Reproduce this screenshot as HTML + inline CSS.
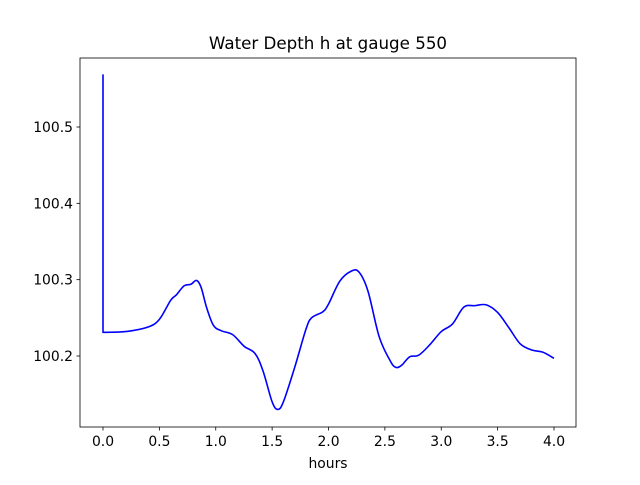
<!DOCTYPE html>
<html><head><meta charset="utf-8"><style>
body{margin:0;background:#fff;font-family:"Liberation Sans","DejaVu Sans",sans-serif}
svg text{font-family:"DejaVu Sans","Liberation Sans",sans-serif;font-size:13.9px;fill:#000}
</style></head><body>
<svg width="640" height="480" viewBox="0 0 640 480">
<rect x="0" y="0" width="640" height="480" fill="#fff"/>
<g id="ticks"></g>
<path id="line" fill="none" stroke="#0000ff" stroke-width="1.6" stroke-linejoin="round"/>
<rect x="80" y="58" width="496" height="369" fill="none" stroke="#000" stroke-width="0.8"/>
<text x="328" y="49" text-anchor="middle" style="font-size:16.7px">Water Depth h at gauge 550</text>
<text x="328" y="468" text-anchor="middle">hours</text>
</svg>
<script>
const hours=[0,0,0.2,0.4,0.5,0.6,0.65,0.72,0.78,0.83,0.87,0.92,0.98,1.05,1.15,1.25,1.35,1.42,1.5,1.55,1.6,1.7,1.8,1.85,1.95,2.0,2.1,2.2,2.27,2.35,2.45,2.55,2.6,2.65,2.72,2.8,2.9,3.0,3.1,3.2,3.3,3.4,3.5,3.6,3.7,3.8,3.9,4.0];
const depth=[100.569,100.231,100.232,100.238,100.248,100.273,100.280,100.292,100.294,100.299,100.290,100.263,100.240,100.233,100.228,100.213,100.203,100.180,100.140,100.130,100.140,100.185,100.235,100.250,100.258,100.268,100.298,100.311,100.310,100.285,100.225,100.193,100.185,100.188,100.199,100.201,100.215,100.232,100.242,100.264,100.266,100.267,100.257,100.237,100.216,100.208,100.205,100.197];
const xTicks=[0,0.5,1,1.5,2,2.5,3,3.5,4];
const xTickLabels=["0.0","0.5","1.0","1.5","2.0","2.5","3.0","3.5","4.0"];
const yTicks=[100.2,100.3,100.4,100.5];
const yTickLabels=["100.2","100.3","100.4","100.5"];
const xs=v=>103+v*112.75;
const ys=v=>356-(v-100.2)*763.3;
const NS="http://www.w3.org/2000/svg";
const g=document.getElementById('ticks');
xTicks.forEach((t,i)=>{
 const l=document.createElementNS(NS,'line');
 
 
 l.setAttribute('x1',xs(t));l.setAttribute('x2',xs(t));l.setAttribute('y1',427);l.setAttribute('y2',430.5);l.setAttribute('stroke','#000');l.setAttribute('stroke-width','0.8');
 g.appendChild(l);
 const tx=document.createElementNS(NS,'text');
 
 
 tx.setAttribute('x',xs(t));tx.setAttribute('y',446);tx.setAttribute('text-anchor','middle');tx.textContent=xTickLabels[i];
 g.appendChild(tx);
});
yTicks.forEach((t,i)=>{
 const l=document.createElementNS(NS,'line');
 
 
 l.setAttribute('x1',76.5);l.setAttribute('x2',80);l.setAttribute('y1',ys(t));l.setAttribute('y2',ys(t));l.setAttribute('stroke','#000');l.setAttribute('stroke-width','0.8');
 g.appendChild(l);
 const tx=document.createElementNS(NS,'text');
 
 
 tx.setAttribute('x',73);tx.setAttribute('y',ys(t)+5);tx.setAttribute('text-anchor','end');tx.textContent=yTickLabels[i];
 g.appendChild(tx);
});
const P=hours.map((h,i)=>[xs(h),ys(depth[i])]);
let d='M'+P[0][0]+','+P[0][1]+'L'+P[1][0]+','+P[1][1];
for(let i=1;i<P.length-1;i++){
 const p0=P[Math.max(1,i-1)],p1=P[i],p2=P[i+1],p3=P[Math.min(P.length-1,i+2)];
 const c1=[p1[0]+(p2[0]-p0[0])/6,p1[1]+(p2[1]-p0[1])/6];
 const c2=[p2[0]-(p3[0]-p1[0])/6,p2[1]-(p3[1]-p1[1])/6];
 d+='C'+c1[0].toFixed(2)+','+c1[1].toFixed(2)+' '+c2[0].toFixed(2)+','+c2[1].toFixed(2)+' '+p2[0].toFixed(2)+','+p2[1].toFixed(2);
}
document.getElementById('line').setAttribute('d',d);
</script>
</body></html>
